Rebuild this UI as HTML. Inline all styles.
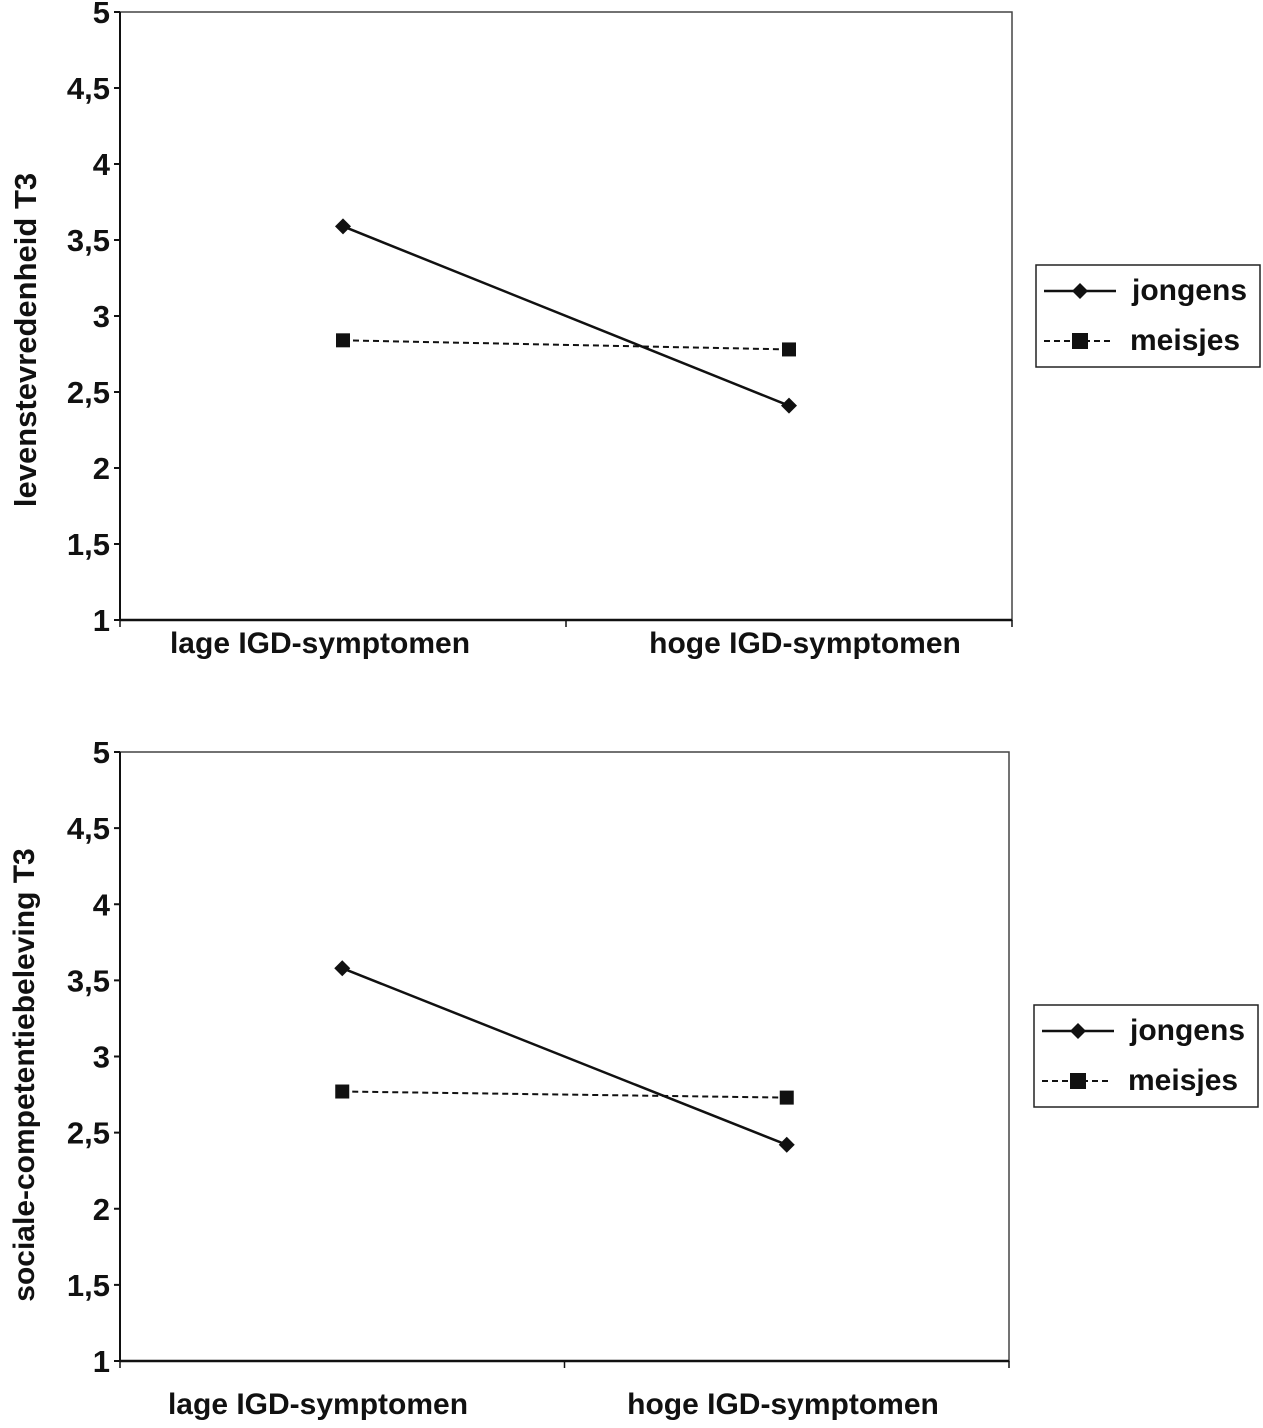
<!DOCTYPE html>
<html><head><meta charset="utf-8"><style>
body{margin:0;background:#fff;}
svg text{font-family:"Liberation Sans",sans-serif;font-weight:bold;fill:#111;}
</style></head><body>
<svg id="s" width="1263" height="1423"></svg>
<script>
const categories=["lage IGD-symptomen","hoge IGD-symptomen"];
const yTicks=[1,1.5,2,2.5,3,3.5,4,4.5,5];
const yTickLabels=["1","1,5","2","2,5","3","3,5","4","4,5","5"];
const seriesNames=["jongens","meisjes"];
const top_jongens=[3.59,2.41];
const top_meisjes=[2.84,2.78];
const bot_jongens=[3.58,2.42];
const bot_meisjes=[2.77,2.73];
const NS="http://www.w3.org/2000/svg";
const svg=document.getElementById('s');
function el(t,a,p){const e=document.createElementNS(NS,t);for(const k in a)e.setAttribute(k,a[k]);(p||svg).appendChild(e);return e;}
function chart(cfg){
  const g=el('g',{});
  
  
  const L=cfg.left,R=cfg.right,T=cfg.top,B=cfg.bottom;
  const y=v=>B-(v-1)/4*(B-T);
  const x=i=>L+(i+0.5)*(R-L)/categories.length;
  const f=el('rect',{x:L,y:T,width:R-L,height:B-T,fill:'none',stroke:'#444','stroke-width':1.5},g);
  
  const xa=el('line',{x1:L,y1:B,x2:R,y2:B,stroke:'#111','stroke-width':2.5},g);
  
  const ya=el('line',{x1:L,y1:T,x2:L,y2:B,stroke:'#111','stroke-width':2},g);
  
  yTicks.forEach((v,i)=>{
    el('line',{x1:L-6,y1:y(v),x2:L,y2:y(v),stroke:'#111','stroke-width':2},g);
    const t=el('text',{x:L-10,y:y(v)+11,'font-size':31,'text-anchor':'end'},g);
    t.textContent=yTickLabels[i];
    
  });
  for(let i=0;i<=categories.length;i++){const xx=L+i*(R-L)/categories.length;el('line',{x1:xx,y1:B,x2:xx,y2:B+7,stroke:'#111','stroke-width':1.5},g);}
  categories.forEach((c,i)=>{
    const t=el('text',{x:cfg.labelX[i],y:B+cfg.labelDy,'font-size':30,'text-anchor':'middle'},g);
    t.textContent=c;
  });
  const yt=el('text',{x:0,y:0,'font-size':cfg.titleSize,'text-anchor':'middle',transform:`translate(${cfg.titleX},${cfg.titleY}) rotate(-90)`},g);
  yt.textContent=cfg.title;
  const pj=cfg.j.map((v,i)=>x(i)+','+y(v)).join(' ');
  const lj=el('polyline',{points:pj,fill:'none',stroke:'#111','stroke-width':2.5},g);
  
  const pm=cfg.m.map((v,i)=>x(i)+','+y(v)).join(' ');
  const lm=el('polyline',{points:pm,fill:'none',stroke:'#111','stroke-width':2,'stroke-dasharray':'6,4'},g);
  
  cfg.j.forEach((v,i)=>{const d=el('polygon',{points:`${x(i)},${y(v)-8} ${x(i)+8},${y(v)} ${x(i)},${y(v)+8} ${x(i)-8},${y(v)}`,fill:'#111'},g);
    });
  cfg.m.forEach((v,i)=>{const r=el('rect',{x:x(i)-7,y:y(v)-7,width:14,height:14,fill:'#111'},g);
    });
  const lx=cfg.legX,ly=cfg.legY;
  const lg=el('g',{},g);
  el('rect',{x:lx,y:ly,width:224,height:102,fill:'#fff',stroke:'#222','stroke-width':1.5},lg);
  el('line',{x1:lx+8,y1:ly+26,x2:lx+80,y2:ly+26,stroke:'#111','stroke-width':2.5},lg);
  el('polygon',{points:`${lx+44},${ly+18} ${lx+52},${ly+26} ${lx+44},${ly+34} ${lx+36},${ly+26}`,fill:'#111'},lg);
  el('line',{x1:lx+8,y1:ly+76,x2:lx+76,y2:ly+76,stroke:'#111','stroke-width':2,'stroke-dasharray':'6,4'},lg);
  el('rect',{x:lx+36,y:ly+68,width:16,height:16,fill:'#111'},lg);
  const t1=el('text',{x:lx+96,y:ly+35,'font-size':30},lg);t1.textContent=seriesNames[0];
  
  const t2=el('text',{x:lx+94,y:ly+85,'font-size':30},lg);t2.textContent=seriesNames[1];
  
}
chart({name:'chart-levenstevredenheid',left:120,right:1012,top:12,bottom:620,labelX:[320,805],labelDy:33,title:'levenstevredenheid T3',titleX:36,titleY:340,titleSize:31,j:top_jongens,m:top_meisjes,legX:1036,legY:265});
chart({name:'chart-sociale-competentiebeleving',left:120,right:1009,top:752,bottom:1361,labelX:[318,783],labelDy:53,title:'sociale-competentiebeleving T3',titleX:34,titleY:1075,titleSize:30,j:bot_jongens,m:bot_meisjes,legX:1034,legY:1005});
</script>
</body></html>
